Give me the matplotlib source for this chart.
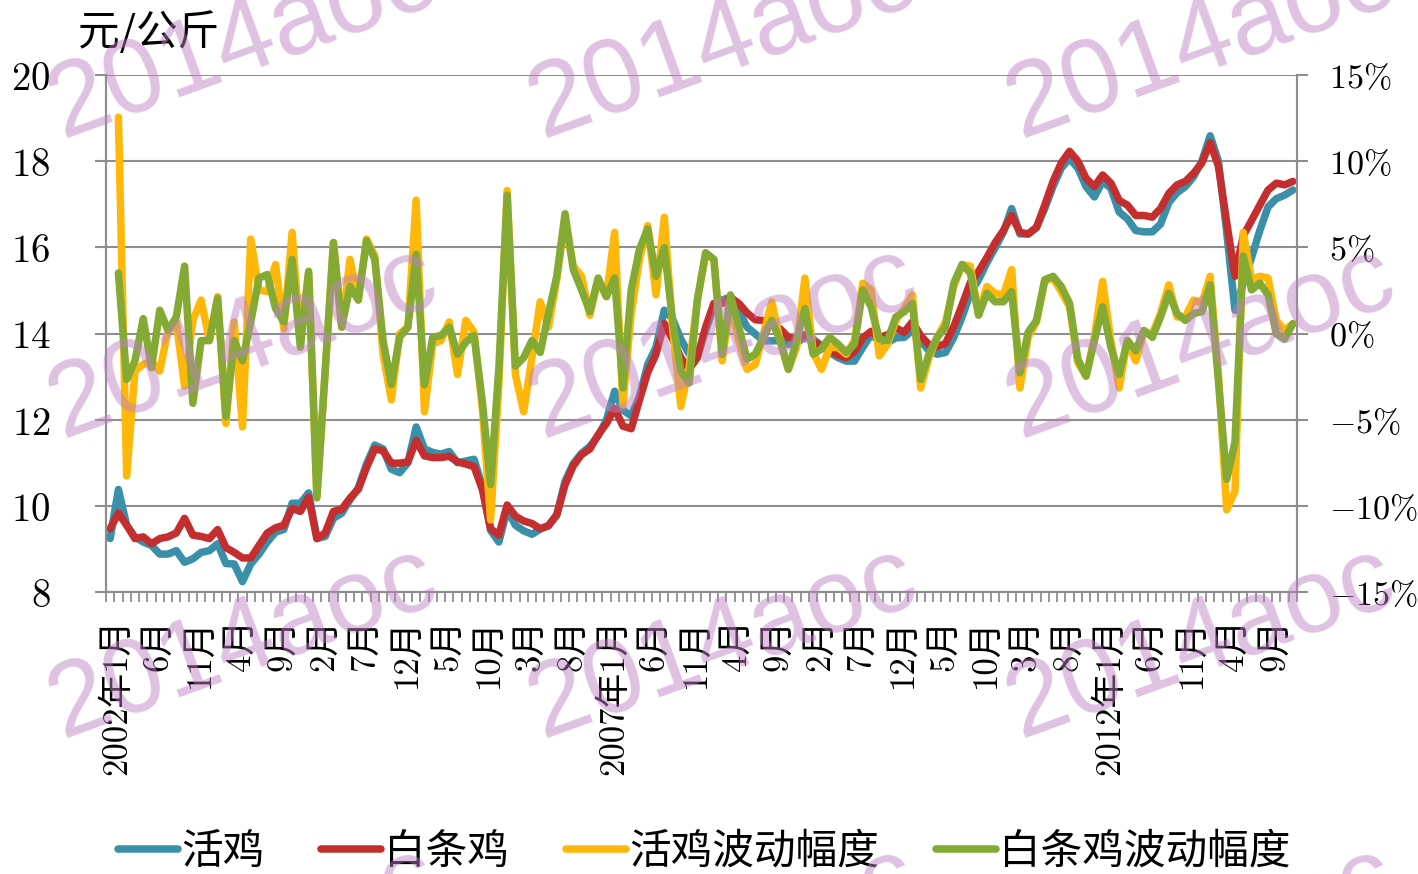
import matplotlib
matplotlib.use("Agg")
import matplotlib.pyplot as plt
import numpy as np
from matplotlib.transforms import ScaledTranslation

plt.rcParams['mathtext.fontset'] = 'cm'

# ---------------- data (monthly, 2002-01 .. 2013-12) ----------------
live_price = [9.24, 10.38, 9.55, 9.28, 9.16, 9.08, 8.88, 8.88, 8.96, 8.69, 8.77, 8.92,
              8.96, 9.12, 8.66, 8.65, 8.24, 8.65, 8.88, 9.16, 9.39, 9.45, 10.06, 10.06,
              10.30, 9.24, 9.29, 9.71, 9.83, 10.14, 10.42, 10.97, 11.41, 11.32, 10.85, 10.77,
              11.00, 11.83, 11.32, 11.24, 11.20, 11.26, 11.00, 11.04, 11.08, 10.46, 9.43, 9.16,
              9.91, 9.55, 9.42, 9.34, 9.46, 9.54, 9.79, 10.57, 10.98, 11.22, 11.38, 11.62,
              11.99, 12.66, 12.22, 12.09, 12.54, 13.28, 13.68, 14.54, 14.34, 13.87, 13.52, 13.48,
              14.07, 14.62, 14.78, 14.84, 14.52, 14.15, 13.99, 13.83, 13.83, 13.83, 13.75, 13.79,
              13.91, 13.87, 13.72, 13.56, 13.44, 13.36, 13.36, 13.68, 13.97, 13.83, 13.79, 13.90,
              13.91, 14.07, 13.83, 13.60, 13.52, 13.56, 13.91, 14.38, 14.93, 15.25, 15.64, 15.99,
              16.35, 16.90, 16.31, 16.31, 16.46, 16.90, 17.41, 17.84, 18.06, 17.84, 17.41, 17.17,
              17.53, 17.37, 16.82, 16.66, 16.39, 16.36, 16.36, 16.54, 17.04, 17.27, 17.41, 17.64,
              18.00, 18.59, 18.00, 16.35, 14.54, 15.17, 15.76, 16.39, 16.94, 17.13, 17.21, 17.33]

carcass_price = [9.47, 9.83, 9.55, 9.24, 9.28, 9.12, 9.24, 9.28, 9.37, 9.71, 9.32, 9.29,
                 9.24, 9.45, 9.03, 8.92, 8.79, 8.79, 9.08, 9.37, 9.49, 9.55, 9.94, 9.87,
                 10.20, 9.24, 9.37, 9.87, 9.92, 10.18, 10.38, 10.89, 11.32, 11.28, 10.99, 10.99,
                 11.02, 11.52, 11.16, 11.12, 11.12, 11.15, 11.02, 10.97, 10.91, 10.38, 9.47, 9.32,
                 10.02, 9.76, 9.65, 9.59, 9.47, 9.54, 9.79, 10.49, 10.93, 11.19, 11.32, 11.65,
                 11.91, 12.26, 11.85, 11.79, 12.46, 13.10, 13.52, 14.23, 13.87, 13.44, 13.17, 13.44,
                 14.15, 14.70, 14.70, 14.84, 14.70, 14.48, 14.32, 14.30, 14.21, 14.11, 13.91, 13.87,
                 13.97, 13.83, 13.69, 13.60, 13.50, 13.44, 13.58, 13.90, 14.05, 13.91, 13.97, 14.13,
                 14.03, 14.27, 13.95, 13.74, 13.69, 13.77, 14.16, 14.66, 15.18, 15.44, 15.76, 16.11,
                 16.39, 16.74, 16.35, 16.31, 16.46, 16.98, 17.53, 17.96, 18.23, 18.00, 17.60, 17.41,
                 17.68, 17.49, 17.09, 16.98, 16.74, 16.74, 16.70, 16.90, 17.25, 17.45, 17.53, 17.72,
                 17.96, 18.43, 17.88, 16.58, 15.33, 16.27, 16.62, 16.98, 17.33, 17.49, 17.45, 17.53]

# month-on-month change (%), first month has no value
live_change = [np.nan, 12.55, -8.27, -2.18, -1.79, -1.59, -2.18, 0.18, 0.67, -3.06, 0.76, 1.94,
               -0.41, 2.14, -5.22, 0.67, -5.42, 5.48, 2.53, 2.43, 4.00, 0.27, 5.87, -0.41,
               3.51, -9.44, -2.18, 5.28, 0.37, 4.30, 1.94, 5.48, 4.50, -1.20, -3.85, -0.02,
               0.37, 7.74, -4.54, -0.61, -0.41, 0.67, -2.38, 0.76, 0.08, -4.34, -10.82, -3.00,
               8.30, -2.38, -4.54, -1.40, 1.84, 0.37, 3.12, 6.66, 3.91, 3.32, 1.06, 3.12,
               2.14, 5.87, -4.14, 1.16, 4.30, 6.26, 2.24, 6.75, 0.37, -4.24, -2.00, 1.94,
               4.59, 4.30, -1.59, 1.75, -0.41, -2.08, -1.79, -0.02, 1.84, -0.41, -2.08, -0.81,
               3.22, -1.10, -2.08, -0.81, -0.81, -1.20, -0.41, 2.92, 2.53, -1.30, -0.61, 0.76,
               1.45, 2.24, -3.16, -1.40, -0.22, 0.67, 2.73, 4.00, 3.91, 1.16, 2.73, 2.33,
               2.24, 3.71, -3.16, -0.22, 0.67, 3.03, 3.22, 2.43, 1.55, -1.69, -2.48, -0.22,
               3.03, -0.41, -3.16, -0.41, -1.59, 0.08, -0.02, 1.16, 2.83, 0.96, 0.96, 1.94,
               1.75, 3.32, -2.38, -10.23, -9.15, 5.87, 3.12, 3.32, 3.22, 0.76, 0.18, 0.57]

carcass_change = [np.nan, 3.51, -2.67, -1.59, 0.86, -1.98, 1.35, 0.18, 0.96, 3.91, -4.05, -0.41,
                  -0.41, 2.04, -4.83, -0.41, -1.59, 0.67, 3.22, 3.42, 1.45, 0.67, 4.30, -0.81,
                  3.61, -9.54, -2.18, 5.28, 0.37, 2.73, 1.94, 5.38, 4.30, -0.41, -2.97, -0.22,
                  0.37, 4.59, -2.97, -0.22, -0.12, 0.37, -1.20, -0.51, -0.12, -3.95, -8.76, -2.00,
                  8.03, -1.89, -1.40, -0.41, -1.10, 1.16, 3.32, 6.95, 3.71, 2.53, 1.26, 3.22,
                  2.14, 3.22, -3.16, 2.53, 4.89, 6.07, 3.32, 4.99, 0.76, -2.18, -2.87, 1.94,
                  4.69, 4.30, -1.20, 2.24, 0.37, -1.49, -1.20, -0.22, 0.76, -0.41, -2.08, -0.41,
                  1.45, -1.20, -0.90, -0.22, -0.61, -1.10, -0.61, 2.53, 1.55, -0.32, -0.41, 0.96,
                  1.26, 1.75, -2.67, -1.20, -0.22, 0.37, 2.92, 4.00, 3.51, 1.06, 2.33, 1.84,
                  1.84, 2.43, -2.28, 0.08, 0.76, 3.12, 3.32, 2.73, 1.75, -1.49, -2.48, -0.41,
                  1.55, -0.81, -2.38, -0.41, -1.00, 0.18, -0.22, 0.96, 2.33, 1.16, 0.76, 1.16,
                  1.26, 2.83, -2.77, -8.46, -6.30, 4.50, 2.53, 2.92, 2.24, -0.02, -0.32, 0.57]

start_year = 2002
label_step = 5
left_ticks = [8, 10, 12, 14, 16, 18, 20]
right_ticks = [-15, -10, -5, 0, 5, 10, 15]
series_names = ['活鸡', '白条鸡', '活鸡波动幅度', '白条鸡波动幅度']
unit_label = '元/公斤'
watermark = '2014aoc'

# ---------------- style ----------------
C_BLUE = '#3990A8'
C_RED = '#C42E2E'
C_ORANGE = '#FFB80A'
C_GREEN = '#84AA33'
GRID = '#8E8E8E'
W, H = 1418, 874
LW = 5.4

n = len(live_price)
x = np.arange(n)
tick_labels = []
for i in range(0, n, label_step):
    y, m = start_year + i // 12, i % 12 + 1
    tick_labels.append(f'{y}年{m}月' if m == 1 else f'{m}月')

fig = plt.figure(figsize=(W / 100, H / 100), dpi=100)
ax = fig.add_axes([106 / W, (H - 592) / H, (1297 - 106) / W, (592 - 75) / H])
ax2 = ax.twinx()

line_kw = dict(lw=LW, solid_capstyle='round', solid_joinstyle='round')
l1, = ax.plot(x, live_price, color=C_BLUE, zorder=3, **line_kw)
l2, = ax.plot(x, carcass_price, color=C_RED, zorder=4, **line_kw)
l3, = ax2.plot(x, live_change, color=C_ORANGE, zorder=3, **line_kw)
l4, = ax2.plot(x, carcass_change, color=C_GREEN, zorder=4, **line_kw)

ax.set_xlim(-0.5, n - 0.5)
ax.set_ylim(8, 20)
ax2.set_ylim(-15, 15)

# grid & spines
ax.set_yticks(left_ticks)
ax2.set_yticks(right_ticks)
ax.yaxis.grid(True, color=GRID, lw=1.5)
ax.set_axisbelow(True)
for a in (ax, ax2):
    a.spines['top'].set_visible(False)
    for s in ('left', 'right', 'bottom'):
        a.spines[s].set_color(GRID)
        a.spines[s].set_linewidth(1.5)

ax.set_yticklabels([f'${v}$' for v in left_ticks])
ax2.set_yticklabels([f'${v}\\%$' if v >= 0 else f'$-{abs(v)}\\%$' for v in right_ticks])
ax.tick_params(axis='y', direction='out', length=8, width=1.5, color=GRID,
               pad=32, labelsize=28, labelcolor='black')
ax2.tick_params(axis='y', direction='out', length=8, width=1.5, color=GRID,
                pad=15, labelsize=24.5, labelcolor='black')

# x axis: monthly minor ticks, labels every 5 months
ax.set_xticks(np.arange(-0.5, n, 1), minor=True)
ax.set_xticks(np.arange(0, n, label_step))
ax.set_xticklabels(tick_labels, rotation=90, ha='center', va='top',
                   family=['cmr10', 'Noto Sans CJK SC'], fontsize=25)
ax.tick_params(axis='x', which='minor', direction='out', length=7, width=1.3, color=GRID)
ax.tick_params(axis='x', which='major', length=0, pad=19)
off = ScaledTranslation(7 / 100, 0, fig.dpi_scale_trans)
for lbl in ax.get_xticklabels():
    lbl.set_transform(lbl.get_transform() + off)

# unit label
fig.text(78 / W, 1 - 33 / H, unit_label, fontsize=30, family='Noto Sans CJK SC',
         va='center', ha='left')

# legend
fig.legend([l1, l2, l3, l4], series_names, loc='center', ncol=4,
           bbox_to_anchor=(704 / W, 1 - 852 / H), frameon=False,
           prop={'family': 'Noto Sans CJK SC', 'size': 30},
           handlelength=1.44, handletextpad=0.07, columnspacing=1.37,
           borderpad=0, borderaxespad=0)

# watermark
for yy in (138, 438, 738, 1038):
    for xx in (62, 542, 1020):
        fig.text(xx / W, 1 - yy / H, watermark, rotation=20, rotation_mode='anchor',
                 ha='left', va='baseline', fontsize=76, family='Liberation Sans',
                 color=(0.74, 0.50, 0.76), alpha=0.48, zorder=20)

fig.savefig('out.png', dpi=100)
